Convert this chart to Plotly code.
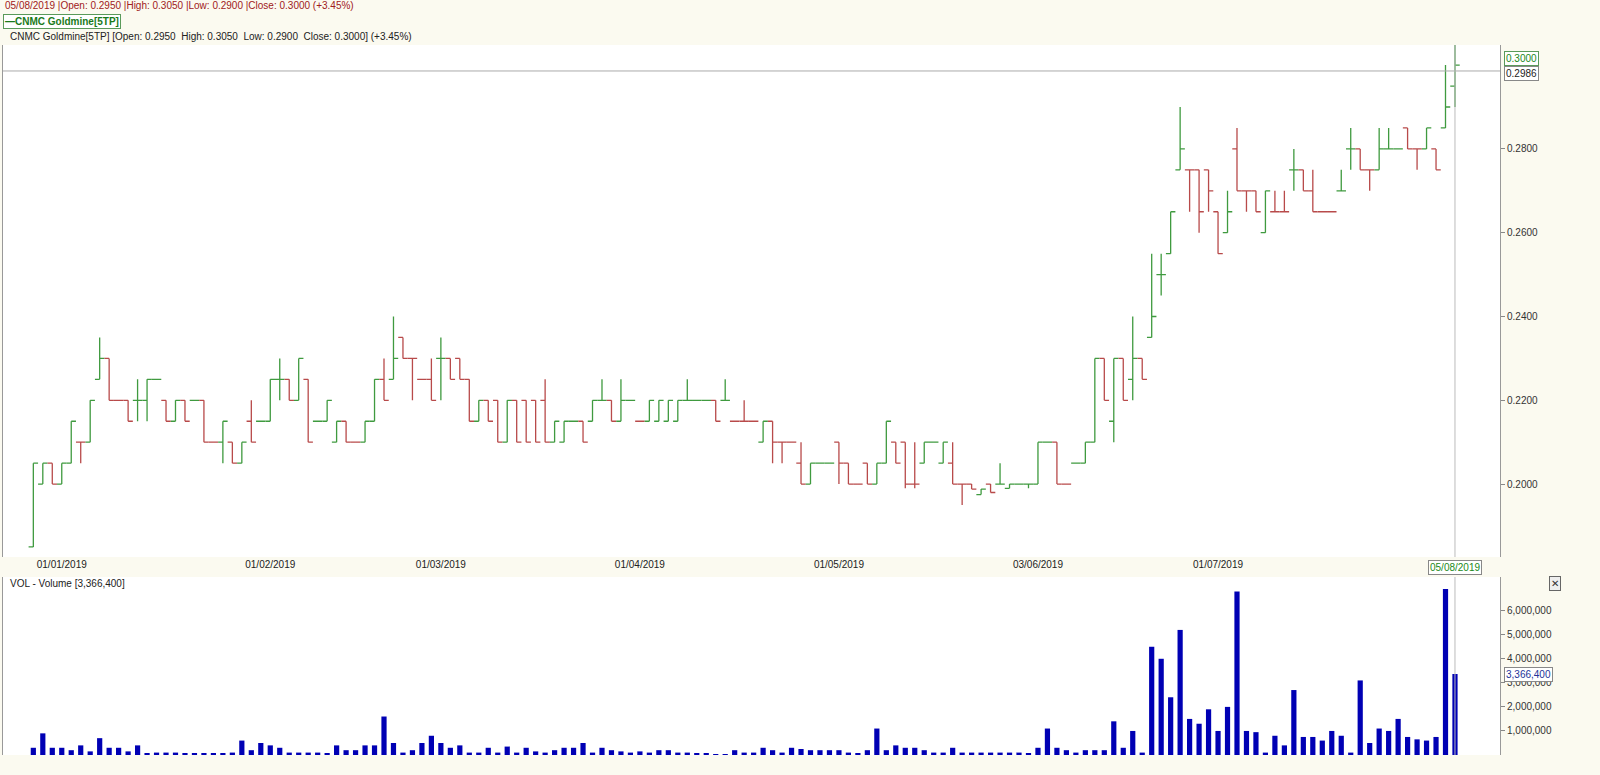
import pandas as pd
import plotly.graph_objects as go

holidays = ["2019-01-01", "2019-02-05", "2019-02-06", "2019-04-19", "2019-05-01", "2019-05-20", "2019-06-05"]
days = [d for d in pd.bdate_range("2018-12-27", "2019-08-05") if d.strftime("%Y-%m-%d") not in holidays]
dates = [d.strftime("%d/%m/%Y") for d in days]

bars = [
(.185,.205,.185,.205),(.20,.205,.20,.205),(.205,.205,.20,.20),(.20,.205,.20,.205),(.205,.215,.205,.215),
(.21,.21,.205,.21),(.21,.22,.21,.22),(.225,.235,.225,.23),(.23,.23,.22,.22),(.22,.22,.22,.22),
(.22,.22,.215,.215),(.22,.225,.215,.22),(.22,.225,.215,.225),(.225,.225,.225,.225),(.22,.22,.215,.215),
(.215,.22,.215,.22),(.22,.22,.215,.215),(.22,.22,.22,.22),(.22,.22,.21,.21),(.21,.21,.21,.21),
(.21,.215,.205,.215),(.21,.21,.205,.205),(.205,.21,.205,.21),(.215,.22,.21,.21),(.215,.215,.215,.215),
(.215,.225,.215,.225),(.225,.23,.22,.225),(.225,.225,.22,.22),(.22,.23,.22,.23),(.225,.225,.21,.21),
(.215,.215,.215,.215),(.215,.22,.215,.22),(.21,.215,.21,.215),(.215,.215,.21,.21),(.21,.21,.21,.21),
(.21,.215,.21,.215),(.215,.225,.215,.225),
(.225,.23,.22,.22),(.225,.24,.225,.23),(.235,.235,.23,.23),(.23,.23,.22,.23),(.225,.225,.225,.225),
(.225,.23,.22,.22),(.23,.235,.22,.23),(.23,.23,.225,.225),(.23,.23,.225,.225),(.225,.225,.215,.215),
(.215,.22,.215,.22),(.22,.22,.215,.215),(.22,.22,.21,.21),(.21,.22,.21,.22),(.22,.22,.21,.21),
(.22,.22,.21,.21),(.22,.22,.21,.21),(.22,.225,.21,.21),(.21,.215,.21,.215),(.21,.215,.21,.215),
(.215,.215,.215,.215),(.215,.215,.21,.21),(.215,.22,.215,.22),(.22,.225,.22,.22),(.22,.22,.215,.215),
(.215,.225,.215,.22),(.22,.22,.22,.22),(.215,.215,.215,.215),(.215,.22,.215,.22),(.215,.22,.215,.22),
(.215,.22,.215,.22),(.215,.22,.215,.22),(.22,.225,.22,.22),(.22,.22,.22,.22),(.22,.22,.22,.22),
(.22,.22,.215,.215),(.22,.225,.22,.22),(.215,.215,.215,.215),
(.215,.22,.215,.215),(.215,.215,.215,.215),(.21,.215,.21,.215),(.215,.215,.205,.21),(.21,.21,.205,.21),
(.21,.21,.21,.21),(.205,.21,.20,.20),(.20,.205,.20,.205),(.205,.205,.205,.205),(.205,.205,.205,.205),
(.21,.21,.20,.205),(.205,.205,.20,.20),(.20,.20,.20,.20),(.205,.205,.20,.20),(.20,.205,.20,.205),
(.205,.215,.205,.215),(.21,.21,.205,.205),(.21,.21,.199,.20),(.20,.21,.199,.20),(.205,.21,.205,.21),
(.21,.21,.21,.21),(.205,.21,.205,.21),(.205,.21,.20,.20),(.20,.20,.195,.20),(.20,.20,.1988,.1988),
(.1975,.1988,.1975,.1988),(.20,.20,.198,.198),(.20,.205,.20,.20),(.199,.20,.199,.20),(.20,.20,.20,.20),
(.20,.20,.199,.20),(.20,.21,.20,.21),(.21,.21,.21,.21),(.21,.21,.20,.20),(.20,.20,.20,.20),
(.205,.205,.205,.205),(.205,.21,.205,.21),(.21,.23,.21,.23),(.23,.23,.22,.22),
(.215,.23,.21,.23),(.23,.23,.22,.22),(.225,.24,.22,.23),(.23,.23,.225,.225),(.235,.255,.235,.24),
(.25,.255,.245,.25),(.255,.265,.255,.265),(.275,.29,.275,.28),(.275,.275,.265,.275),(.275,.275,.26,.265),
(.275,.275,.265,.27),(.265,.265,.255,.255),(.26,.27,.26,.265),(.28,.285,.27,.27),(.27,.27,.265,.27),
(.27,.27,.265,.265),(.26,.27,.26,.27),(.265,.27,.265,.265),(.265,.27,.265,.265),(.275,.28,.27,.275),
(.275,.275,.27,.27),(.27,.275,.265,.265),(.265,.265,.265,.265),(.265,.265,.265,.265),(.27,.275,.27,.27),
(.28,.285,.275,.28),(.28,.28,.275,.275),(.275,.275,.27,.275),(.275,.285,.275,.28),(.28,.285,.28,.28),
(.28,.28,.28,.28),(.285,.285,.28,.28),(.28,.28,.275,.28),(.28,.285,.28,.285),(.28,.28,.275,.275),
(.285,.30,.285,.29),(.295,.305,.29,.30),
]
opens = [b[0] for b in bars]
highs = [b[1] for b in bars]
lows = [b[2] for b in bars]
closes = [b[3] for b in bars]

volume_k = [
300,900,300,300,200,400,150,700,300,300,
150,400,50,100,100,100,50,50,50,50,
50,100,600,200,500,400,300,100,100,100,
100,50,400,200,200,400,400,1600,500,100,
200,500,800,500,300,400,100,100,300,100,
350,100,300,150,100,200,300,300,500,100,
300,200,150,100,150,100,200,200,100,100,
50,50,30,30,200,100,100,300,200,100,
300,250,200,200,200,200,100,50,200,1100,
200,400,300,300,200,100,100,300,100,100,
100,100,100,100,100,50,300,1100,300,200,
100,200,200,200,1400,300,1000,100,4500,4000,
2400,5200,1500,1300,1900,1000,2000,6800,1000,950,
100,800,400,2700,750,750,600,1000,800,100,
3100,500,1100,1000,1500,750,650,600,750,6900,
3366.4,
]
volumes = [v * 1000 for v in volume_k]

n = min(len(dates), len(bars), len(volumes))
dates, opens, highs, lows, closes, volumes = dates[:n], opens[:n], highs[:n], lows[:n], closes[:n], volumes[:n]

tick_dates = ["02/01/2019", "01/02/2019", "01/03/2019", "01/04/2019", "02/05/2019", "03/06/2019", "01/07/2019"]
tick_text = ["01/01/2019", "01/02/2019", "01/03/2019", "01/04/2019", "01/05/2019", "03/06/2019", "01/07/2019"]
price_ticks = [0.20, 0.22, 0.24, 0.26, 0.28]
vol_ticks = [1e6, 2e6, 3e6, 4e6, 5e6, 6e6]
cross_price = 0.2986

W, H = 1600, 775
x0, x1 = 3 / W, 1500 / W
fig = go.Figure()
fig.add_trace(go.Ohlc(x=dates, open=opens, high=highs, low=lows, close=closes,
                      increasing=dict(line=dict(color="#3f9a3f", width=1.3)),
                      decreasing=dict(line=dict(color="#b84a4a", width=1.3)),
                      tickwidth=0.5, xaxis="x", yaxis="y", showlegend=False, hoverinfo="skip"))
fig.add_trace(go.Bar(x=dates, y=volumes, marker=dict(color="#0000b4", line=dict(width=0)),
                     width=0.55, xaxis="x2", yaxis="y2", showlegend=False, hoverinfo="skip"))

xr = [-3.2, n - 1 + 4.75]
common_x = dict(type="category", range=xr, showgrid=False, zeroline=False, fixedrange=True,
                showline=False, rangeslider=dict(visible=False))
fig.update_layout(
    width=W, height=H, margin=dict(l=0, r=0, t=0, b=0),
    paper_bgcolor="#fbfaf0", plot_bgcolor="#ffffff",
    font=dict(family="Liberation Sans, Arial", size=10, color="#333"),
    xaxis=dict(**common_x, domain=[x0, x1], anchor="y", tickmode="array", tickvals=tick_dates,
               ticktext=tick_text, ticks="", tickfont=dict(size=10, color="#222")),
    yaxis=dict(domain=[1 - 557 / H, 1 - 45 / H], range=[0.1826, 0.3048], side="right", tickvals=price_ticks,
               tickformat=".4f", showgrid=False, zeroline=False, ticks="outside", ticklen=4, fixedrange=True,
               tickcolor="#888", showline=True, linecolor="#999", mirror=True, tickfont=dict(size=10)),
    xaxis2=dict(**common_x, domain=[x0, x1], anchor="y2", showticklabels=False),
    yaxis2=dict(domain=[1 - 755 / H, 1 - 577 / H], range=[0, 7.4e6], side="right", tickvals=vol_ticks,
                tickformat=",d", showgrid=False, zeroline=False, ticks="outside", ticklen=4, tickcolor="#888",
                fixedrange=True, showline=True, linecolor="#999", mirror=True, tickfont=dict(size=10)),
    bargap=0.4,
)
fig.add_shape(type="line", xref="paper", x0=x0, x1=x1, yref="y", y0=cross_price, y1=cross_price,
              line=dict(color="#aaaaaa", width=1))
fig.add_shape(type="line", xref="x", x0=dates[-1], x1=dates[-1], yref="paper", y0=1 - 557 / H, y1=1 - 45 / H,
              line=dict(color="#bbbbbb", width=1))
fig.add_shape(type="line", xref="x2", x0=dates[-1], x1=dates[-1], yref="paper", y0=1 - 755 / H, y1=1 - 577 / H,
              line=dict(color="#bbbbbb", width=1))

ann = []
ann.append(dict(x=0.002, y=1 - 6 / H, xref="paper", yref="paper", xanchor="left", yanchor="middle", showarrow=False,
                text="05/08/2019 |Open: 0.2950 |High: 0.3050 |Low: 0.2900 |Close: 0.3000 (+3.45%)",
                font=dict(size=10, color="#a02020")))
ann.append(dict(x=0.002, y=1 - 21 / H, xref="paper", yref="paper", xanchor="left", yanchor="middle", showarrow=False,
                text="<b>—CNMC Goldmine[5TP]</b>", font=dict(size=10, color="#1a7a1a"),
                bordercolor="#5a9a5a", borderwidth=1, borderpad=1, bgcolor="#ffffff"))
ann.append(dict(x=0.005, y=1 - 37 / H, xref="paper", yref="paper", xanchor="left", yanchor="middle", showarrow=False,
                text="CNMC Goldmine[5TP] [Open: 0.2950  High: 0.3050  Low: 0.2900  Close: 0.3000] (+3.45%)",
                font=dict(size=10, color="#222")))
ann.append(dict(x=0.005, y=1 - 583 / H, xref="paper", yref="paper", xanchor="left", yanchor="middle", showarrow=False,
                text="VOL - Volume [3,366,400]", font=dict(size=10, color="#222")))
ann.append(dict(x=1504 / W, y=closes[-1], xref="paper", yref="y", xanchor="left", yanchor="bottom", showarrow=False,
                text="0.3000", font=dict(size=10, color="#1a8a1a"), bordercolor="#5a9a5a", borderwidth=1,
                borderpad=1, bgcolor="#ffffff", yshift=-1))
ann.append(dict(x=1504 / W, y=cross_price, xref="paper", yref="y", xanchor="left", yanchor="top", showarrow=False,
                text="0.2986", font=dict(size=10, color="#222"), bordercolor="#888", borderwidth=1,
                borderpad=1, bgcolor="#ffffff", yshift=5))
ann.append(dict(x=dates[-1], y=1 - 567 / H, xref="x", yref="paper", xanchor="center", yanchor="middle", showarrow=False,
                text="05/08/2019", font=dict(size=10, color="#1a8a1a"), bordercolor="#888", borderwidth=1,
                borderpad=1, bgcolor="#ffffff"))
ann.append(dict(x=1504 / W, y=volumes[-1], xref="paper", yref="y2", xanchor="left", yanchor="middle", showarrow=False,
                text="3,366,400", font=dict(size=10, color="#223399"), bordercolor="#888", borderwidth=1,
                borderpad=1, bgcolor="#ffffff"))
ann.append(dict(x=1555 / W, y=1 - 583 / H, xref="paper", yref="paper", xanchor="center", yanchor="middle", showarrow=False,
                text="✕", font=dict(size=10, color="#333"), bordercolor="#666", borderwidth=1, borderpad=1,
                bgcolor="#eeeeee"))
fig.update_layout(annotations=ann)
fig.write_html("out.html", config={"displayModeBar": False},
               post_script="document.body.style.margin='0';document.body.style.overflow='hidden';")
